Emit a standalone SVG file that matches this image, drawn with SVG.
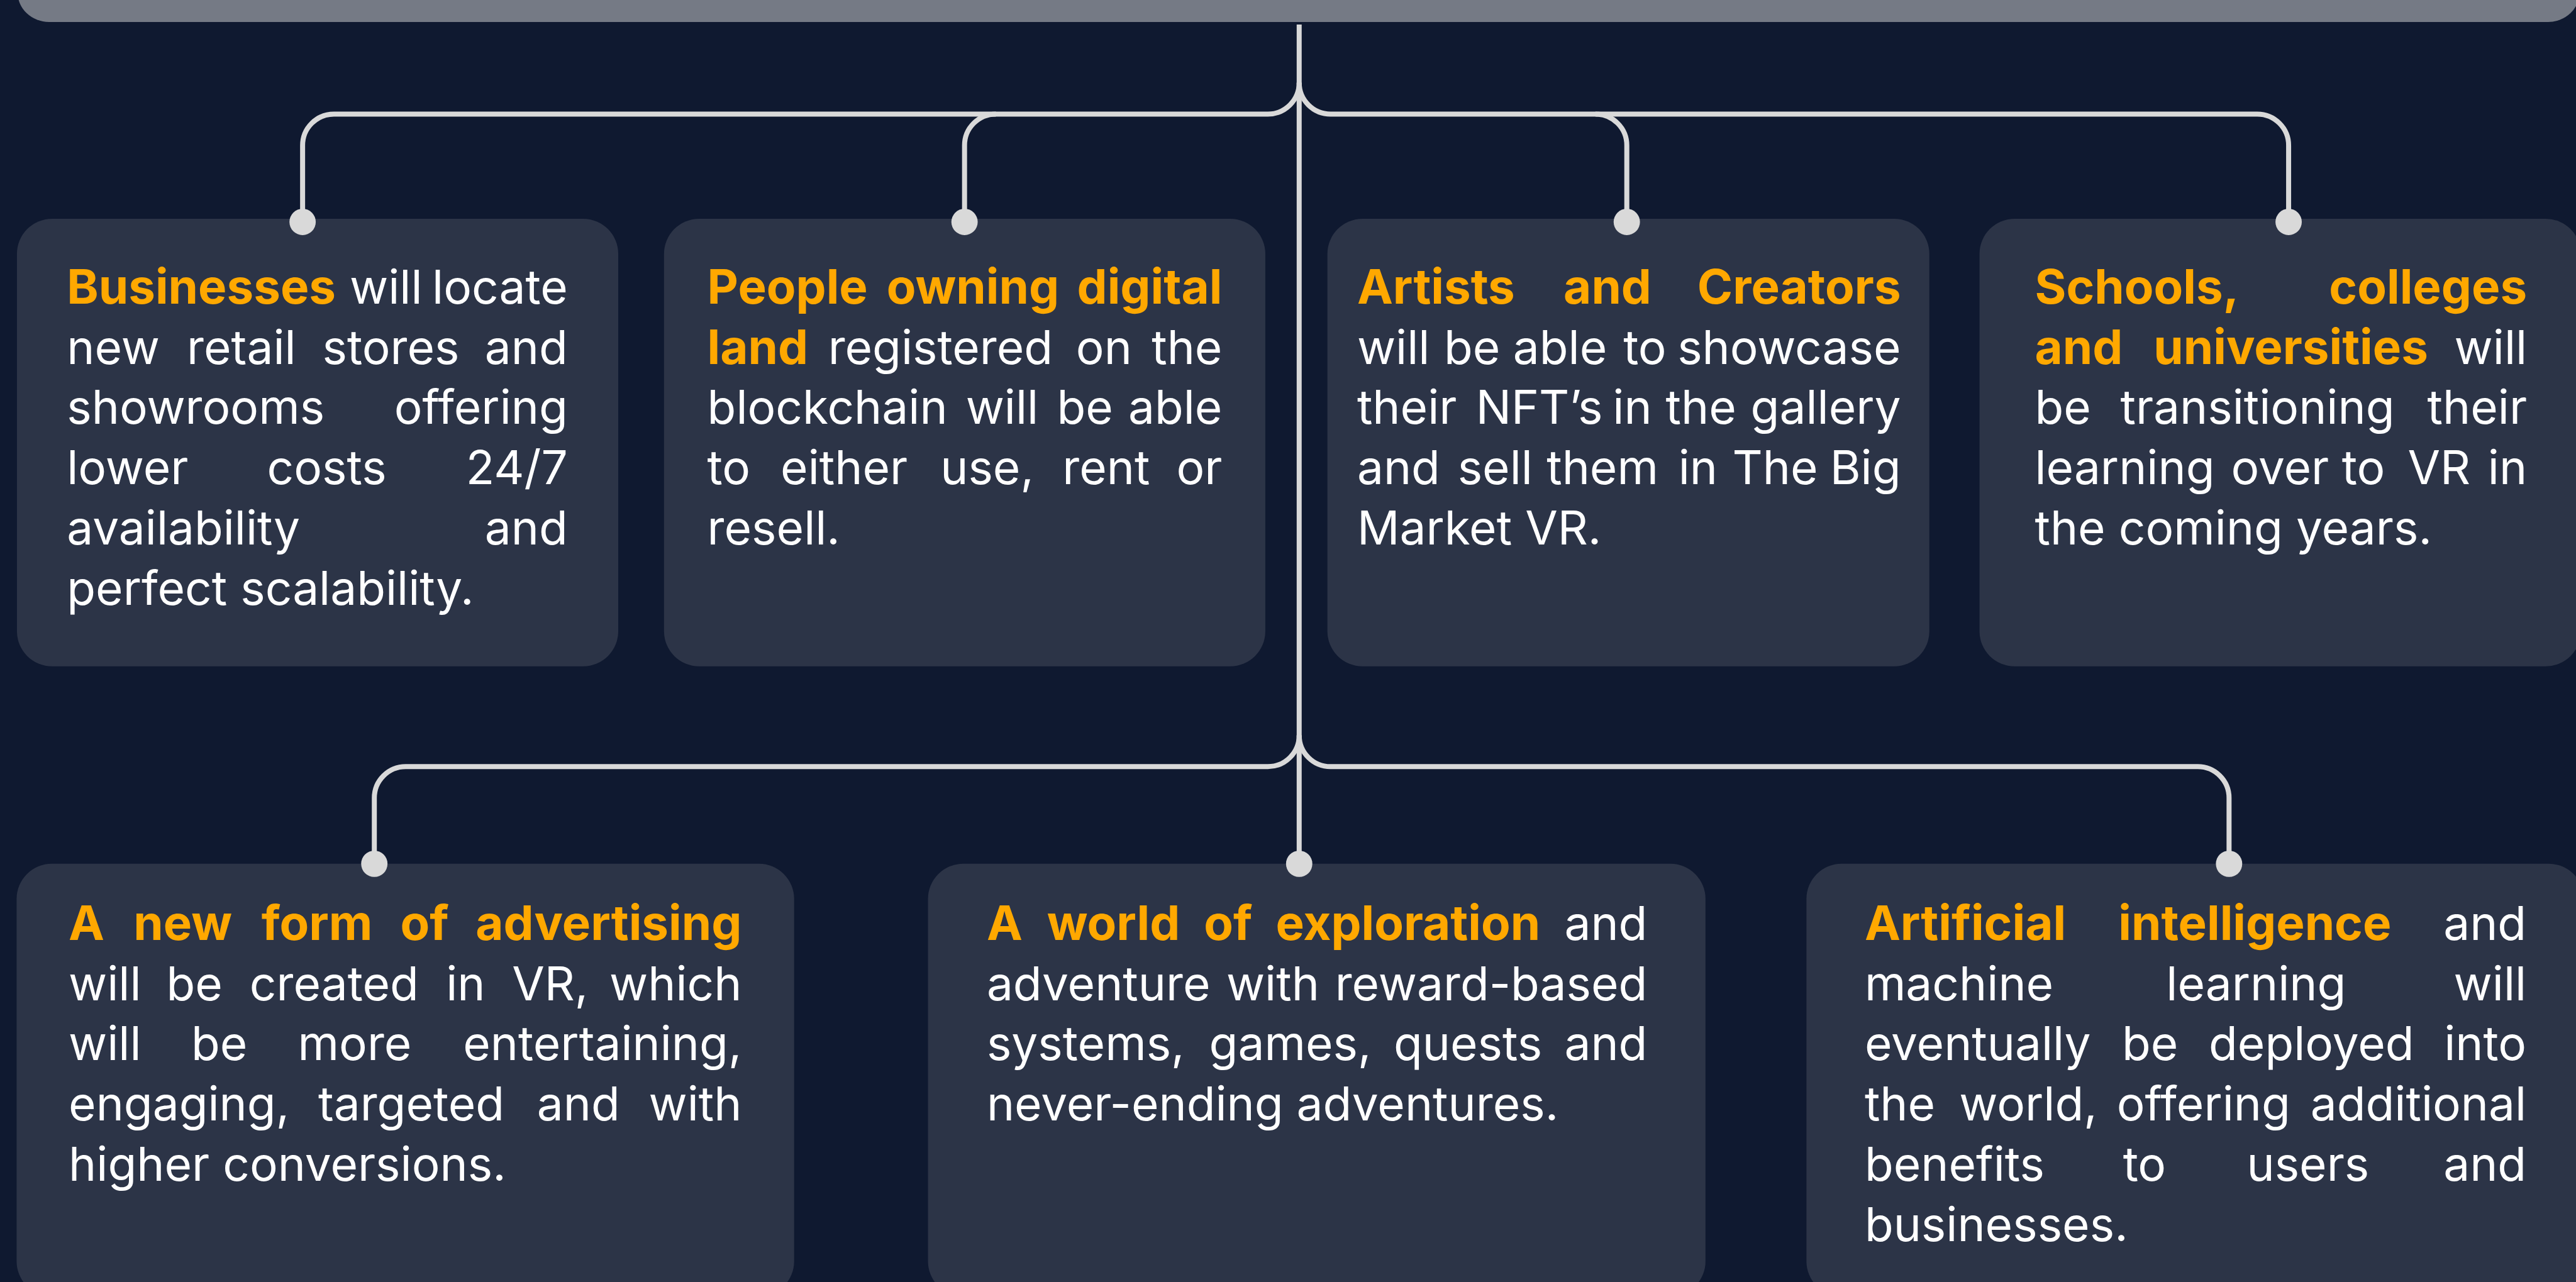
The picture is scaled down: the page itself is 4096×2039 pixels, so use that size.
<svg xmlns="http://www.w3.org/2000/svg" width="4096" height="2039" viewBox="0 0 4096 2039">
  <style>
    .bg { fill: #0F1930; }
    .bar { fill: #757A85; }
    .card { fill: #2C3447; }
    .wire { fill: none; stroke: #D9D9D9; stroke-width: 8; }
    .dot { fill: #D9D9D9; }
    .t { font-family: Inter, "Liberation Sans", sans-serif; font-size: 75px; fill: #FFFFFF; }
    .h { font-weight: 700; font-size: 76.5px; fill: #FFA800; }
    .e { text-anchor: end; }
  </style>
  <rect class="bg" x="0" y="0" width="4096" height="2039"/>
  <g transform="scale(0.997)">
    <rect id="header-bar" class="bar" x="28" y="-60" width="4086" height="95" rx="50"/>

    <!-- connectors -->
    <g id="connectors">
      <path class="wire" d="M2072 39 V1378"/>
      <path class="wire" d="M2072 132 A50 50 0 0 1 2022 182 H532.6 A50 50 0 0 0 482.6 232 V354"/>
      <path class="wire" d="M2072 132 A50 50 0 0 0 2122 182 H3600 A50 50 0 0 1 3650 232 V354"/>
      <path class="wire" d="M1588.3 182 A50 50 0 0 0 1538.3 232 V354"/>
      <path class="wire" d="M2544.5 182 A50 50 0 0 1 2594.5 232 V354"/>
      <path class="wire" d="M2072 1173 A50 50 0 0 1 2022 1223 H647 A50 50 0 0 0 597 1273 V1378"/>
      <path class="wire" d="M2072 1173 A50 50 0 0 0 2122 1223 H3505 A50 50 0 0 1 3555 1273 V1378"/>
    </g>

    <!-- top row -->
    <g id="businesses">
      <rect class="card" x="27" y="349" width="959" height="714" rx="56"/>
      <circle class="dot" cx="482.6" cy="354" r="21"/>
      <text class="t" y="484.5"><tspan class="h" x="106.6">Businesses</tspan><tspan x="557.7">will</tspan><tspan class="e" x="905.5">locate</tspan></text>
      <text class="t" y="580.5"><tspan x="106.6">new</tspan><tspan x="298">retail</tspan><tspan x="514">stores</tspan><tspan class="e" x="905.5">and</tspan></text>
      <text class="t" y="676.5"><tspan x="106.6">showrooms</tspan><tspan class="e" x="905.5">offering</tspan></text>
      <text class="t" y="772.5"><tspan x="106.6">lower</tspan><tspan x="425.8">costs</tspan><tspan class="e" x="905.5">24/7</tspan></text>
      <text class="t" y="868.5"><tspan x="106.6">availability</tspan><tspan class="e" x="905.5">and</tspan></text>
      <text class="t" x="106.6" y="964.5">perfect scalability.</text>
    </g>

    <g id="digital-land">
      <rect class="card" x="1059" y="349" width="959" height="714" rx="56"/>
      <circle class="dot" cx="1538.3" cy="354" r="21"/>
      <text class="t" y="484.5"><tspan class="h" x="1128">People</tspan><tspan class="h" x="1414">owning</tspan><tspan class="h e" x="1949.3">digital</tspan></text>
      <text class="t" y="580.5"><tspan class="h" x="1128">land</tspan><tspan x="1320.6">registered</tspan><tspan x="1716">on</tspan><tspan class="e" x="1949.3">the</tspan></text>
      <text class="t" y="676.5"><tspan x="1128">blockchain</tspan><tspan x="1540.3">will</tspan><tspan x="1685.6">be</tspan><tspan class="e" x="1949.3">able</tspan></text>
      <text class="t" y="772.5"><tspan x="1128">to</tspan><tspan x="1244.8">either</tspan><tspan x="1499.7">use,</tspan><tspan x="1694.4">rent</tspan><tspan class="e" x="1949.3">or</tspan></text>
      <text class="t" x="1128" y="868.5">resell.</text>
    </g>

    <g id="artists">
      <rect class="card" x="2117" y="349" width="960" height="714" rx="56"/>
      <circle class="dot" cx="2594.5" cy="354" r="21"/>
      <text class="t" y="484.5"><tspan class="h" x="2164.4">Artists</tspan><tspan class="h" x="2493.6">and</tspan><tspan class="h e" x="3031.7">Creators</tspan></text>
      <text class="t" y="580.5"><tspan x="2164.4">will</tspan><tspan x="2303">be</tspan><tspan x="2413.1">able</tspan><tspan x="2588.9">to</tspan><tspan class="e" x="3031.7">showcase</tspan></text>
      <text class="t" y="676.5"><tspan x="2164.4">their</tspan><tspan x="2353.7">NFT’s</tspan><tspan x="2572">in</tspan><tspan x="2656.5">the</tspan><tspan class="e" x="3031.7">gallery</tspan></text>
      <text class="t" y="772.5"><tspan x="2164.4">and</tspan><tspan x="2324.6">sell</tspan><tspan x="2466.6">them</tspan><tspan x="2676.8">in</tspan><tspan x="2762.7">The</tspan><tspan class="e" x="3031.7">Big</tspan></text>
      <text class="t" x="2164.4" y="868.5">Market VR.</text>
    </g>

    <g id="schools">
      <rect class="card" x="3157" y="349" width="959" height="714" rx="56"/>
      <circle class="dot" cx="3650" cy="354" r="21"/>
      <text class="t" y="484.5"><tspan class="h" x="3245.2">Schools,</tspan><tspan class="h e" x="4030.2">colleges</tspan></text>
      <text class="t" y="580.5"><tspan class="h" x="3245.2">and</tspan><tspan class="h" x="3434.6">universities</tspan><tspan class="e" x="4030.2">will</tspan></text>
      <text class="t" y="676.5"><tspan x="3245.2">be</tspan><tspan x="3381.6">transitioning</tspan><tspan class="e" x="4030.2">their</tspan></text>
      <text class="t" y="772.5"><tspan x="3245.2">learning</tspan><tspan x="3558.2">over</tspan><tspan x="3734.9">to</tspan><tspan x="3840">VR</tspan><tspan class="e" x="4030.2">in</tspan></text>
      <text class="t" x="3245.2" y="868.5">the coming years.</text>
    </g>

    <!-- bottom row -->
    <g id="advertising">
      <rect class="card" x="26.5" y="1378" width="1240" height="690" rx="56"/>
      <circle class="dot" cx="597" cy="1378" r="21"/>
      <text class="t" y="1499.5"><tspan class="h" x="109.4">A</tspan><tspan class="h" x="213">new</tspan><tspan class="h" x="417">form</tspan><tspan class="h" x="638.4">of</tspan><tspan class="h e" x="1183">advertising</tspan></text>
      <text class="t" y="1595.5"><tspan x="109.4">will</tspan><tspan x="265.3">be</tspan><tspan x="398">created</tspan><tspan x="711.3">in</tspan><tspan x="816.6">VR,</tspan><tspan class="e" x="1183">which</tspan></text>
      <text class="t" y="1691.5"><tspan x="109.4">will</tspan><tspan x="305">be</tspan><tspan x="475">more</tspan><tspan class="e" x="1183">entertaining,</tspan></text>
      <text class="t" y="1787.5"><tspan x="109.4">engaging,</tspan><tspan x="507.4">targeted</tspan><tspan x="856.4">and</tspan><tspan class="e" x="1183">with</tspan></text>
      <text class="t" x="109.4" y="1883.5">higher conversions.</text>
    </g>

    <g id="exploration">
      <rect class="card" x="1480" y="1378" width="1240" height="690" rx="56"/>
      <circle class="dot" cx="2072" cy="1378" r="21"/>
      <text class="t" y="1499.5"><tspan class="h" x="1573.6">A</tspan><tspan class="h" x="1669.7">world</tspan><tspan class="h" x="1920.1">of</tspan><tspan class="h" x="2034.5">exploration</tspan><tspan class="e" x="2627.3">and</tspan></text>
      <text class="t" y="1595.5"><tspan x="1573.6">adventure</tspan><tspan x="1955.8">with</tspan><tspan class="e" x="2627.3">reward-based</tspan></text>
      <text class="t" y="1691.5"><tspan x="1573.6">systems,</tspan><tspan x="1928.4">games,</tspan><tspan x="2222.7">quests</tspan><tspan class="e" x="2627.3">and</tspan></text>
      <text class="t" x="1573.6" y="1787.5">never-ending adventures.</text>
    </g>

    <g id="artificial-intelligence">
      <rect class="card" x="2881" y="1378" width="1240" height="690" rx="56"/>
      <circle class="dot" cx="3555" cy="1378" r="21"/>
      <text class="t" y="1499.5"><tspan class="h" x="2973.8">Artificial</tspan><tspan class="h" x="3378.4">intelligence</tspan><tspan class="e" x="4029.2">and</tspan></text>
      <text class="t" y="1595.5"><tspan x="2973.8">machine</tspan><tspan x="3454.7">learning</tspan><tspan class="e" x="4029.2">will</tspan></text>
      <text class="t" y="1691.5"><tspan x="2973.8">eventually</tspan><tspan x="3384.2">be</tspan><tspan x="3522.6">deployed</tspan><tspan class="e" x="4029.2">into</tspan></text>
      <text class="t" y="1787.5"><tspan x="2973.8">the</tspan><tspan x="3124.7">world,</tspan><tspan x="3375.9">offering</tspan><tspan class="e" x="4029.2">additional</tspan></text>
      <text class="t" y="1883.5"><tspan x="2973.8">benefits</tspan><tspan x="3385.8">to</tspan><tspan x="3583.2">users</tspan><tspan class="e" x="4029.2">and</tspan></text>
      <text class="t" x="2973.8" y="1979.5">businesses.</text>
    </g>
  </g>
</svg>
